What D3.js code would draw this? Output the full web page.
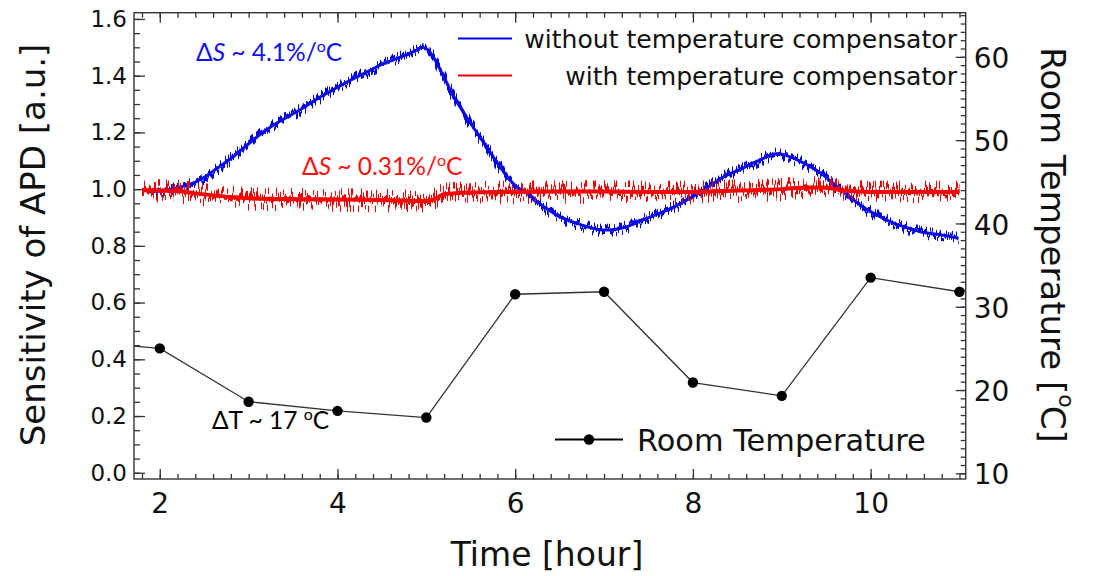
<!DOCTYPE html>
<html>
<head>
<meta charset="utf-8">
<script src="https://cdn.jsdelivr.net/npm/d3@7"></script>
<style>
  html, body { margin: 0; padding: 0; background: #fff; }
  svg { display: block; }
</style>
</head>
<body>
<svg id="chart" width="1099" height="576"></svg>
<script>
// ---------------- data ----------------
const blueHours = [1.89, 2.05, 2.19, 2.32, 2.45, 2.63, 2.83, 3.0, 3.2, 3.4, 3.58, 3.77, 3.95, 4.14, 4.33, 4.5, 4.63, 4.78, 4.89, 4.95, 5.02, 5.08, 5.15, 5.23, 5.3, 5.38, 5.47, 5.57, 5.66, 5.75, 5.85, 5.94, 6.03, 6.13, 6.22, 6.32, 6.41, 6.5, 6.6, 6.69, 6.85, 6.99, 7.12, 7.26, 7.44, 7.63, 7.82, 8.0, 8.19, 8.3, 8.42, 8.53, 8.65, 8.76, 8.85, 8.94, 9.04, 9.13, 9.22, 9.32, 9.42, 9.51, 9.6, 9.69, 9.78, 9.88, 9.97, 10.07, 10.16, 10.26, 10.4, 10.56, 10.78, 10.99];
const blueValues = [0.99, 0.995, 1.004, 1.015, 1.032, 1.07, 1.115, 1.16, 1.209, 1.248, 1.28, 1.318, 1.35, 1.383, 1.413, 1.44, 1.456, 1.475, 1.49, 1.5, 1.49, 1.465, 1.425, 1.375, 1.33, 1.29, 1.245, 1.199, 1.157, 1.115, 1.07, 1.032, 1.005, 0.986, 0.962, 0.939, 0.92, 0.903, 0.89, 0.88, 0.864, 0.856, 0.858, 0.868, 0.892, 0.915, 0.943, 0.974, 1.012, 1.035, 1.055, 1.068, 1.088, 1.103, 1.117, 1.125, 1.12, 1.109, 1.096, 1.08, 1.06, 1.039, 1.015, 0.992, 0.968, 0.945, 0.926, 0.909, 0.894, 0.88, 0.865, 0.85, 0.839, 0.827];

const redHours = [1.8, 2.0, 2.2, 2.4, 2.6, 2.8, 3.0, 3.5, 4.0, 4.5, 5.0, 5.1, 5.2, 5.5, 6.0, 6.5, 7.0, 7.5, 8.0, 8.5, 9.0, 9.3, 9.5, 9.7, 10.0, 10.5, 11.0];
const redValues = [0.997, 0.995, 0.993, 0.985, 0.978, 0.972, 0.968, 0.965, 0.963, 0.962, 0.958, 0.966, 0.982, 0.988, 0.99, 0.992, 0.992, 0.99, 0.99, 0.995, 1.0, 1.006, 1.005, 0.995, 0.99, 0.99, 0.99];

const tempHours = [1, 2, 3, 4, 5, 6, 7, 8, 9, 10, 11];
const tempValues = [25.9, 25.0, 18.6, 17.5, 16.7, 31.5, 31.8, 20.9, 19.3, 33.5, 31.8];

const xTickValues = [2, 4, 6, 8, 10];
const leftTickValues = [0.0, 0.2, 0.4, 0.6, 0.8, 1.0, 1.2, 1.4, 1.6];
const rightTickValues = [10, 20, 30, 40, 50, 60];

const seriesNames = ["without temperature compensator", "with temperature compensator", "Room Temperature"];

// ---------------- layout ----------------
const svg = d3.select("#chart");
const L = 134, R = 965.7, T = 12.7, B = 479;
const frameColor = "#333";

const x = d3.scaleLinear().domain([1.71, 11.07]).range([L, R]);
const yL = d3.scaleLinear().domain([-0.022, 1.622]).range([B, T]);
const yR = d3.scaleLinear().domain([9.32, 65.3]).range([B, T]);

const defs = svg.append("defs");
defs.append("clipPath").attr("id", "plotClip")
  .append("rect").attr("x", L).attr("y", T).attr("width", R - L).attr("height", B - T);

// visual "measurement noise" texture (styling only, data untouched)
function jitter(id, freq, scale, seed) {
  const f = defs.append("filter").attr("id", id)
    .attr("filterUnits", "userSpaceOnUse")
    .attr("x", 0).attr("y", 0).attr("width", 1099).attr("height", 576)
    .attr("color-interpolation-filters", "sRGB");
  f.append("feTurbulence").attr("type", "fractalNoise")
    .attr("baseFrequency", freq).attr("numOctaves", 2).attr("seed", seed).attr("result", "n");
  f.append("feColorMatrix").attr("in", "n").attr("type", "matrix")
    .attr("values", "0 0 0 0 0.5  0 2.6 0 0 -0.8  0 0 0 0 0  0 0 0 0 1").attr("result", "m");
  f.append("feDisplacementMap").attr("in", "SourceGraphic").attr("in2", "m")
    .attr("scale", scale).attr("xChannelSelector", "R").attr("yChannelSelector", "G");
}
jitter("jBlue", "0.6 0.02", 9, 4);
jitter("jRed", "0.6 0.02", 17, 9);

// ---------------- axes / ticks ----------------
function styleAxis(g) {
  g.select(".domain").remove();
  g.selectAll(".tick line").attr("stroke", frameColor).attr("stroke-width", 1.3);
  g.selectAll(".tick text").attr("fill", "#111").attr("font-family", "DejaVu Sans, sans-serif");
}

const leftMinor = d3.range(0, 1.6001, 0.05);
svg.append("g").attr("transform", `translate(${L},0)`)
  .call(d3.axisLeft(yL).tickValues(leftMinor).tickSize(-6).tickFormat(""))
  .call(styleAxis);
svg.append("g").attr("transform", `translate(${L},0)`)
  .call(d3.axisLeft(yL).tickValues(leftTickValues).tickSize(-11).tickPadding(7).tickFormat(d3.format(".1f")))
  .call(styleAxis)
  .call(g => g.selectAll("text").attr("font-size", 23));

const xMinor = d3.range(1.8, 11.001, 0.2);
[["bottom", B], ["top", T]].forEach(([side, pos]) => {
  const ax = side === "bottom" ? d3.axisBottom : d3.axisTop;
  svg.append("g").attr("transform", `translate(0,${pos})`)
    .call(ax(x).tickValues(xMinor).tickSize(-5).tickFormat(""))
    .call(styleAxis);
  svg.append("g").attr("transform", `translate(0,${pos})`)
    .call(ax(x).tickValues(xTickValues).tickSize(-10).tickPadding(side === "bottom" ? 14 : 0)
      .tickFormat(side === "bottom" ? d3.format("d") : ""))
    .call(styleAxis)
    .call(g => g.selectAll("text").attr("font-size", 28));
});

const rightMinor = d3.range(10, 65.001, 1);
svg.append("g").attr("transform", `translate(${R},0)`)
  .call(d3.axisRight(yR).tickValues(rightMinor).tickSize(-5).tickFormat(""))
  .call(styleAxis);
svg.append("g").attr("transform", `translate(${R},0)`)
  .call(d3.axisRight(yR).tickValues(rightTickValues).tickSize(-10).tickPadding(8).tickFormat(d3.format("d")))
  .call(styleAxis)
  .call(g => g.selectAll("text").attr("font-size", 28).attr("dy", "0.38em"));

// frame
svg.append("rect").attr("x", L).attr("y", T).attr("width", R - L).attr("height", B - T)
  .attr("fill", "none").attr("stroke", frameColor).attr("stroke-width", 1.4);

// ---------------- series ----------------
const plot = svg.append("g").attr("clip-path", "url(#plotClip)");

const blueData = blueHours.map((h, i) => [h, blueValues[i]]);
const redData = redHours.map((h, i) => [h, redValues[i]]);
const tempData = tempHours.map((h, i) => [h, tempValues[i]]);

const lineL = d3.line().x(d => x(d[0])).y(d => yL(d[1])).curve(d3.curveMonotoneX);
const lineR = d3.line().x(d => x(d[0])).y(d => yR(d[1]));

// room temperature
plot.append("path").datum(tempData).attr("d", lineR)
  .attr("fill", "none").attr("stroke", "#333").attr("stroke-width", 1.3);
plot.selectAll("circle.temp").data(tempData).join("circle").attr("class", "temp")
  .attr("cx", d => x(d[0])).attr("cy", d => yR(d[1])).attr("r", 5.2).attr("fill", "#000");

// blue: without compensator
plot.append("path").datum(blueData).attr("d", lineL)
  .attr("fill", "none").attr("stroke", "#0000dc").attr("stroke-width", 4.2)
  .attr("filter", "url(#jBlue)");
plot.append("path").datum(blueData).attr("d", lineL)
  .attr("fill", "none").attr("stroke", "#0a0ae6").attr("stroke-width", 3);

// red: with compensator
plot.append("path").datum(redData).attr("d", lineL)
  .attr("fill", "none").attr("stroke", "#e80000").attr("stroke-width", 6.5)
  .attr("filter", "url(#jRed)");
plot.append("path").datum(redData).attr("d", lineL)
  .attr("fill", "none").attr("stroke", "#ff0000").attr("stroke-width", 4);

// ---------------- legends ----------------
const legFont = "DejaVu Sans, sans-serif";
svg.append("line").attr("x1", 458).attr("x2", 512).attr("y1", 38.5).attr("y2", 38.5)
  .attr("stroke", "#0000ee").attr("stroke-width", 2.2);
svg.append("line").attr("x1", 458).attr("x2", 512).attr("y1", 75.5).attr("y2", 75.5)
  .attr("stroke", "#ee0000").attr("stroke-width", 2.2);
svg.append("text").attr("x", 957).attr("y", 48).attr("text-anchor", "end")
  .attr("font-family", legFont).attr("font-size", 25.1).attr("fill", "#111").text(seriesNames[0]);
svg.append("text").attr("x", 957).attr("y", 85).attr("text-anchor", "end")
  .attr("font-family", legFont).attr("font-size", 25.1).attr("fill", "#111").text(seriesNames[1]);

svg.append("line").attr("x1", 555).attr("x2", 623).attr("y1", 439.5).attr("y2", 439.5)
  .attr("stroke", "#000").attr("stroke-width", 2);
svg.append("circle").attr("cx", 589).attr("cy", 439.5).attr("r", 5.2).attr("fill", "#000");
svg.append("text").attr("x", 637).attr("y", 450.5)
  .attr("font-family", legFont).attr("font-size", 30.4).attr("fill", "#111").text(seriesNames[2]);

// ---------------- annotations ----------------
function annot(xp, yp, color, parts, size) {
  const t = svg.append("text").attr("x", xp).attr("y", yp)
    .attr("font-family", "Lato, 'Open Sans', sans-serif").attr("font-size", size).attr("fill", color);
  parts.forEach(p => {
    const s = t.append("tspan").text(p.t);
    if (p.i) s.attr("font-style", "italic");
    if (p.sup) s.attr("font-size", size * 0.65).attr("dy", -size * 0.38);
    if (p.down) s.attr("dy", size * 0.38);
  });
}
annot(196, 61, "#1010ee", [{t: "Δ"}, {t: "S", i: true}, {t: " ~ 4.1%/"}, {t: "o", sup: true}, {t: "C", down: true}], 24.5);
annot(302, 175, "#ff1010", [{t: "Δ"}, {t: "S", i: true}, {t: " ~ 0.31%/"}, {t: "o", sup: true}, {t: "C", down: true}], 24.5);
annot(212, 429, "#000", [{t: "ΔT ~ 17 "}, {t: "o", sup: true}, {t: "C", down: true}], 24.5);

// ---------------- axis titles ----------------
svg.append("text").attr("transform", `translate(33,245) rotate(-90)`)
  .attr("text-anchor", "middle").attr("dominant-baseline", "central")
  .attr("font-family", legFont).attr("font-size", 34).attr("fill", "#111")
  .text("Sensitivity of APD [a.u.]");

const rt = svg.append("text").attr("transform", `translate(1053,245) rotate(90)`)
  .attr("text-anchor", "middle").attr("dominant-baseline", "central")
  .attr("font-family", legFont).attr("font-size", 34).attr("fill", "#111");
rt.append("tspan").text("Room Temperature [");
rt.append("tspan").text("o").attr("font-size", 22).attr("dy", -14);
rt.append("tspan").text("C").attr("dy", 14).attr("dx", -2);
rt.append("tspan").text("]");

svg.append("text").attr("x", 547).attr("y", 566)
  .attr("text-anchor", "middle")
  .attr("font-family", legFont).attr("font-size", 33).attr("fill", "#111")
  .text("Time [hour]");
</script>
</body>
</html>
